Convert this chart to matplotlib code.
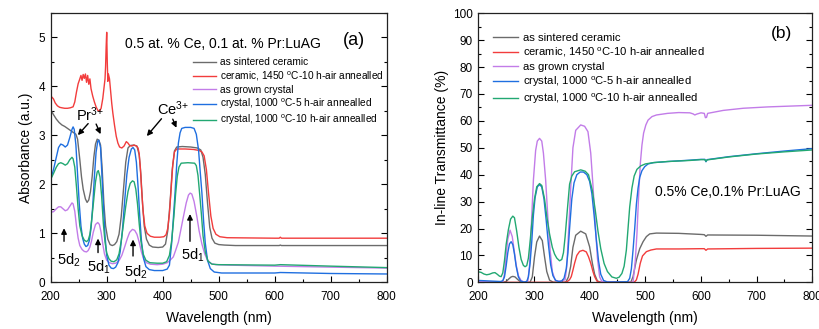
import matplotlib
matplotlib.use("Agg")
import matplotlib.pyplot as plt
from matplotlib.ticker import MultipleLocator

# ---------------- (a) absorbance data ----------------
wl_a_sintered = [200, 205, 210, 215, 220, 225, 230, 235, 240, 245, 248, 252, 255, 258, 262, 265, 268, 271,
                 274, 277, 280, 283, 286, 289, 292, 295, 298, 302, 306, 310, 314, 318, 322, 326, 330, 334,
                 338, 342, 348, 354, 358, 361, 364, 367, 371, 376, 382, 392, 400, 405, 409, 413, 417, 421,
                 425, 435, 450, 462, 468, 472, 476, 480, 484, 488, 493, 500, 510, 530, 600, 608, 610, 612,
                 700, 800]
abs_sintered = [3.52, 3.42, 3.33, 3.26, 3.21, 3.18, 3.14, 3.10, 3.06, 3.02, 2.92, 2.50, 2.15, 1.90, 1.70, 1.63,
                1.68, 1.85, 2.15, 2.55, 2.82, 2.92, 2.90, 2.80, 2.30, 1.60, 1.15, 0.88, 0.77, 0.75, 0.77, 0.83,
                0.98, 1.35, 1.90, 2.45, 2.74, 2.79, 2.80, 2.78, 2.60, 2.20, 1.60, 1.15, 0.88, 0.76, 0.72, 0.71,
                0.72, 0.78, 1.05, 1.60, 2.30, 2.68, 2.76, 2.77, 2.76, 2.74, 2.70, 2.55, 2.20, 1.62, 1.12, 0.90,
                0.80, 0.77, 0.76, 0.75, 0.75, 0.75, 0.76, 0.75, 0.75, 0.75]

wl_a_ceramic = [200, 202, 205, 208, 212, 216, 220, 225, 230, 235, 240, 243, 246, 249, 252, 254, 256, 258, 260,
                262, 264, 266, 268, 270, 272, 275, 278, 281, 284, 287, 290, 293, 295, 297, 298, 299, 300, 301,
                302, 303, 305, 307, 309, 311, 314, 317, 320, 323, 327, 331, 335, 338, 341, 345, 349, 353, 356,
                358, 360, 362, 365, 368, 372, 378, 385, 395, 402, 406, 409, 412, 415, 418, 421, 425, 440, 455,
                465, 470, 474, 478, 482, 486, 490, 495, 502, 515, 600, 608, 610, 612, 700, 800]
abs_ceramic = [3.72, 3.78, 3.74, 3.66, 3.60, 3.57, 3.56, 3.55, 3.55, 3.56, 3.58, 3.68, 3.88, 4.05, 4.15, 4.22,
               4.12, 4.24, 4.16, 4.25, 4.08, 4.22, 4.04, 4.15, 3.95, 3.80, 3.68, 3.58, 3.51, 3.49, 3.55, 3.75,
               3.95, 4.15, 4.40, 4.80, 5.10, 4.50, 4.10, 4.25, 4.15, 3.90, 3.65, 3.45, 3.20, 2.98, 2.84, 2.76,
               2.74, 2.78, 2.87, 2.84, 2.79, 2.78, 2.80, 2.78, 2.74, 2.62, 2.35, 1.95, 1.45, 1.15, 1.00, 0.94,
               0.92, 0.92, 0.93, 0.97, 1.10, 1.40, 1.90, 2.40, 2.66, 2.72, 2.72, 2.71, 2.69, 2.66, 2.58, 2.30,
               1.80, 1.35, 1.10, 0.98, 0.93, 0.91, 0.90, 0.90, 0.92, 0.90, 0.90, 0.90]

wl_a_grown = [200, 205, 210, 214, 218, 222, 226, 230, 234, 238, 240, 243, 246, 249, 252, 256, 260, 264, 267,
              270, 273, 276, 280, 284, 287, 290, 293, 296, 300, 305, 310, 316, 322, 327, 332, 337, 341, 346,
              350, 354, 358, 362, 366, 371, 378, 390, 400, 408, 414, 419, 423, 428, 432, 437, 442, 446, 449,
              452, 456, 461, 465, 470, 475, 480, 487, 495, 520, 600, 700, 800]
abs_grown = [1.43, 1.44, 1.50, 1.54, 1.54, 1.50, 1.46, 1.48, 1.55, 1.62, 1.60, 1.45, 1.15, 0.90, 0.75, 0.67,
             0.63, 0.62, 0.65, 0.72, 0.85, 1.02, 1.18, 1.22, 1.18, 1.02, 0.78, 0.58, 0.45, 0.40, 0.38, 0.39,
             0.44, 0.55, 0.72, 0.90, 1.02, 1.08, 1.06, 0.98, 0.82, 0.62, 0.48, 0.40, 0.37, 0.36, 0.37, 0.40,
             0.46, 0.52, 0.65, 0.82, 1.05, 1.34, 1.62, 1.78, 1.82, 1.80, 1.65, 1.34, 1.05, 0.78, 0.58, 0.45,
             0.38, 0.36, 0.35, 0.33, 0.31, 0.29]

wl_a_cr5h = [200, 205, 210, 214, 218, 222, 226, 230, 234, 238, 240, 242, 245, 248, 251, 254, 257, 260, 263,
             266, 269, 272, 275, 278, 281, 284, 286, 289, 291, 294, 297, 300, 304, 308, 312, 316, 320, 324,
             328, 332, 336, 340, 344, 347, 350, 353, 356, 359, 362, 366, 370, 376, 385, 400, 408, 412, 416,
             419, 422, 425, 428, 431, 434, 440, 450, 456, 460, 464, 467, 470, 473, 476, 480, 485, 492, 505,
             600, 610, 700, 800]
abs_cr5h = [2.10, 2.30, 2.55, 2.75, 2.82, 2.80, 2.76, 2.80, 2.95, 3.12, 3.17, 3.12, 2.80, 2.20, 1.60, 1.15,
            0.90, 0.78, 0.73, 0.75, 0.85, 1.10, 1.55, 2.15, 2.65, 2.88, 2.90, 2.75, 2.30, 1.60, 0.95, 0.55,
            0.35, 0.29, 0.28, 0.31, 0.40, 0.62, 1.05, 1.65, 2.20, 2.55, 2.72, 2.75, 2.70, 2.45, 1.95, 1.35,
            0.85, 0.48, 0.32, 0.26, 0.24, 0.24, 0.27, 0.35, 0.80, 1.30, 1.82, 2.40, 2.84, 3.05, 3.14, 3.16,
            3.16, 3.14, 3.02, 2.70, 2.25, 1.82, 1.25, 0.80, 0.45, 0.28, 0.21, 0.19, 0.19, 0.20, 0.18, 0.17]

wl_a_cr10h = [200, 205, 210, 214, 218, 222, 226, 230, 234, 238, 240, 243, 246, 249, 252, 256, 260, 264, 267,
              270, 273, 277, 280, 283, 285, 288, 291, 294, 297, 300, 304, 308, 313, 318, 322, 326, 330, 334,
              338, 342, 346, 349, 352, 355, 358, 361, 365, 370, 377, 390, 400, 407, 412, 416, 420, 423, 426,
              429, 433, 445, 457, 460, 463, 466, 469, 472, 476, 481, 488, 500, 600, 610, 700, 800]
abs_cr10h = [2.10, 2.22, 2.35, 2.42, 2.44, 2.42, 2.39, 2.42, 2.50, 2.55, 2.52, 2.35, 1.95, 1.50, 1.15, 0.95,
             0.86, 0.83, 0.86, 0.98, 1.25, 1.70, 2.05, 2.25, 2.28, 2.15, 1.75, 1.20, 0.82, 0.60, 0.48, 0.43,
             0.42, 0.46, 0.58, 0.85, 1.20, 1.55, 1.85, 2.02, 2.07, 2.05, 1.90, 1.60, 1.20, 0.85, 0.58, 0.45,
             0.40, 0.39, 0.39, 0.42, 0.55, 0.85, 1.35, 1.80, 2.16, 2.35, 2.43, 2.44, 2.43, 2.38, 2.18, 1.80,
             1.40, 0.95, 0.62, 0.43, 0.37, 0.36, 0.35, 0.36, 0.33, 0.30]

# ---------------- (b) in-line transmittance data ----------------
wl_t_sintered = [200, 245, 250, 255, 259, 262, 266, 270, 275, 282, 293, 297, 301, 305, 310, 315, 319, 323,
                 328, 335, 357, 362, 366, 370, 375, 384, 393, 400, 405, 409, 414, 420, 474, 478, 484, 490,
                 496, 502, 508, 520, 560, 600, 606, 609, 612, 700, 800]
tr_sintered = [0.0, 0.0, 0.3, 1.3, 2.0, 2.2, 2.0, 1.2, 0.3, 0.0, 0.0, 2.0, 9.5, 15.0, 17.2, 15.5, 9.5, 4.0,
               0.8, 0.0, 0.0, 2.0, 6.0, 13.0, 17.5, 19.0, 18.0, 13.2, 7.0, 3.0, 0.5, 0.0, 0.0, 2.1, 8.3,
               12.5, 15.1, 17.0, 18.0, 18.3, 18.2, 17.8, 17.7, 17.1, 17.6, 17.5, 17.2]

wl_t_ceramic = [200, 355, 360, 364, 367, 370, 373, 377, 382, 388, 394, 398, 402, 406, 409, 413, 418, 480,
                484, 487, 491, 495, 502, 510, 520, 560, 600, 606, 609, 612, 700, 800]
tr_ceramic = [0.0, 0.0, 0.3, 1.0, 2.1, 4.5, 7.1, 10.0, 11.5, 11.9, 11.3, 9.5, 7.1, 4.0, 2.1, 0.5, 0.0, 0.0,
              0.9, 3.0, 7.1, 9.8, 11.4, 12.0, 12.4, 12.4, 12.5, 12.5, 11.9, 12.4, 12.6, 12.7]

wl_t_grown = [200, 215, 240, 244, 247, 250, 253, 257, 261, 264, 268, 272, 277, 283, 289, 292, 295, 299, 303,
              306, 310, 314, 317, 321, 325, 329, 333, 338, 344, 350, 356, 359, 362, 366, 370, 375, 384, 391,
              397, 402, 406, 410, 414, 418, 422, 478, 482, 485, 488, 491, 494, 497, 501, 505, 512, 520, 540,
              560, 580, 586, 589, 592, 600, 606, 608, 610, 612, 640, 676, 720, 760, 800]
tr_grown = [0.3, 0.2, 0.1, 0.2, 3.0, 10.0, 16.0, 19.4, 17.0, 12.5, 6.5, 2.5, 0.6, 0.1, 0.5, 6.0, 20.0, 38.0,
            49.0, 52.5, 53.5, 52.5, 48.0, 38.0, 24.0, 12.0, 4.0, 0.8, 0.4, 0.5, 1.0, 6.0, 18.0, 35.0, 50.0,
            56.5, 58.5, 58.0, 56.0, 48.0, 36.0, 22.0, 9.0, 2.0, 0.3, 0.0, 8.0, 18.0, 32.0, 44.0, 51.0, 55.5,
            58.5, 60.3, 61.6, 62.2, 62.8, 63.1, 63.0, 62.6, 62.2, 62.5, 63.0, 62.8, 61.2, 61.3, 62.8, 63.9,
            64.7, 65.2, 65.5, 65.8]

wl_t_cr5h = [200, 220, 240, 244, 247, 250, 253, 256, 259, 262, 265, 268, 272, 276, 282, 287, 290, 293, 296,
             299, 302, 306, 310, 314, 318, 322, 326, 330, 334, 339, 345, 350, 354, 358, 361, 364, 368, 372,
             377, 383, 389, 395, 400, 404, 408, 412, 416, 420, 425, 432, 468, 472, 475, 478, 481, 484, 487,
             490, 494, 499, 505, 515, 540, 580, 600, 607, 609, 611, 650, 700, 750, 800]
tr_cr5h = [0.7, 0.5, 0.3, 0.6, 2.0, 6.0, 11.0, 14.3, 15.1, 14.0, 10.5, 6.0, 2.0, 0.5, 0.1, 0.3, 2.0, 7.0,
           15.0, 25.0, 31.5, 35.5, 36.3, 35.5, 31.0, 23.0, 14.0, 6.5, 2.5, 0.7, 0.3, 0.5, 1.5, 5.0, 11.0,
           20.0, 31.0, 37.0, 40.0, 41.0, 41.0, 40.0, 37.5, 33.0, 25.0, 16.0, 8.0, 3.0, 0.7, 0.1, 0.2, 1.5,
           5.0, 12.0, 20.0, 29.0, 35.0, 39.0, 41.5, 43.0, 44.0, 44.5, 44.9, 45.4, 45.7, 45.7, 44.8, 45.6,
           46.7, 47.8, 48.8, 49.7]

wl_t_cr10h = [200, 205, 210, 215, 220, 226, 230, 234, 238, 241, 244, 247, 250, 254, 258, 262, 265, 269, 273,
              277, 281, 284, 287, 290, 293, 297, 301, 305, 310, 314, 319, 323, 328, 333, 337, 341, 346, 350,
              353, 356, 360, 364, 368, 373, 384, 392, 398, 405, 410, 415, 420, 426, 432, 440, 448, 453, 458,
              462, 466, 469, 472, 476, 480, 485, 492, 500, 515, 540, 580, 600, 607, 609, 611, 650, 700, 750,
              800]
tr_cr10h = [3.9, 3.7, 3.1, 2.8, 3.0, 3.5, 3.6, 3.0, 2.3, 2.1, 3.5, 8.0, 14.0, 19.5, 23.5, 24.6, 24.0, 19.0,
            13.0, 8.5, 6.3, 5.8, 6.2, 9.0, 15.0, 24.0, 31.0, 35.5, 36.7, 36.0, 31.0, 24.5, 18.0, 13.0, 10.5,
            9.0, 8.0, 8.5, 11.0, 17.0, 27.0, 36.5, 39.5, 41.1, 41.8, 41.3, 40.0, 34.0, 27.0, 19.0, 12.5, 7.0,
            4.0, 2.0, 1.5, 1.9, 3.3, 6.0, 12.0, 20.0, 28.0, 35.0, 39.5, 42.0, 43.3, 44.0, 44.5, 44.9, 45.3,
            45.6, 45.6, 45.0, 45.5, 46.6, 47.7, 48.5, 49.2]

labels = ["as sintered ceramic",
          "ceramic, 1450 $^{o}$C-10 h-air annealled",
          "as grown crystal",
          "crystal, 1000 $^{o}$C-5 h-air annealled",
          "crystal, 1000 $^{o}$C-10 h-air annealled"]
colors = ["#6b6b6b", "#f23c3c", "#c27ce8", "#1f6fe0", "#22a872"]


def style_axes(ax, ymax, ymajor, yminor):
    ax.set_xlim(200, 800)
    ax.set_ylim(0, ymax)
    ax.xaxis.set_major_locator(MultipleLocator(100))
    ax.xaxis.set_minor_locator(MultipleLocator(50))
    ax.yaxis.set_major_locator(MultipleLocator(ymajor))
    ax.yaxis.set_minor_locator(MultipleLocator(yminor))
    ax.tick_params(which="both", direction="in", top=False, right=True,
                   labelsize=8.5, width=0.8)
    ax.tick_params(axis="x", which="both", pad=6)
    ax.tick_params(axis="y", which="both", pad=4)
    ax.tick_params(which="major", length=4)
    ax.tick_params(which="minor", length=2)
    for sp in ax.spines.values():
        sp.set_linewidth(0.9)
        sp.set_color("#222222")


def up_arrow(ax, x, y0, y1):
    ax.annotate("", xy=(x, y1), xytext=(x, y0),
                arrowprops=dict(arrowstyle="-|>", color="black", lw=1.0, mutation_scale=8))


def main():
    plt.rcParams["font.family"] = ["Liberation Sans", "DejaVu Sans"]
    plt.rcParams["mathtext.fontset"] = "custom"
    plt.rcParams["mathtext.rm"] = "Liberation Sans"
    plt.rcParams["mathtext.it"] = "Liberation Sans:italic"
    plt.rcParams["mathtext.bf"] = "Liberation Sans:bold"
    plt.rcParams["mathtext.default"] = "regular"

    fig = plt.figure(figsize=(8.19, 3.29), dpi=100)
    ax1 = fig.add_axes([0.0619, 0.1419, 0.4103, 0.8195])
    ax2 = fig.add_axes([0.5840, 0.1419, 0.4078, 0.8177])

    # (a) absorbance
    abs_sets = [(wl_a_sintered, abs_sintered), (wl_a_ceramic, abs_ceramic), (wl_a_grown, abs_grown),
                (wl_a_cr5h, abs_cr5h), (wl_a_cr10h, abs_cr10h)]
    for (x, y), lab, c in zip(abs_sets, labels, colors):
        ax1.plot(x, y, color=c, lw=1.0, label=lab)
    style_axes(ax1, 5.5, 1, 0.5)
    ax1.set_xlabel("Wavelength (nm)", fontsize=10, labelpad=6)
    ax1.set_ylabel("Absorbance (a.u.)", fontsize=10, labelpad=4)
    ax1.legend(loc="upper left", bbox_to_anchor=(0.424, 0.835), frameon=False, fontsize=7.3,
               handlelength=2.25, handletextpad=0.35, labelspacing=0.2, borderpad=0, borderaxespad=0)
    ax1.text(332.7, 4.86, "0.5 at. % Ce, 0.1 at. % Pr:LuAG", fontsize=10, ha="left", va="center")
    ax1.text(741.6, 4.94, "(a)", fontsize=13, ha="center", va="center")

    ax1.text(245.2, 3.30, "Pr$^{3{+}}$", fontsize=10.5, ha="left", va="baseline")
    ax1.annotate("", xy=(245.2, 2.96), xytext=(270.2, 3.28),
                 arrowprops=dict(arrowstyle="-|>", color="black", lw=1.0, mutation_scale=8))
    ax1.annotate("", xy=(291.1, 2.97), xytext=(279.1, 3.28),
                 arrowprops=dict(arrowstyle="-|>", color="black", lw=1.0, mutation_scale=8))
    ax1.text(389.3, 3.41, "Ce$^{3{+}}$", fontsize=10.5, ha="left", va="baseline")
    ax1.annotate("", xy=(368.4, 2.94), xytext=(401.0, 3.38),
                 arrowprops=dict(arrowstyle="-|>", color="black", lw=1.0, mutation_scale=8))
    ax1.annotate("", xy=(426.5, 3.10), xytext=(416.0, 3.38),
                 arrowprops=dict(arrowstyle="-|>", color="black", lw=1.0, mutation_scale=8))

    up_arrow(ax1, 223.8, 0.78, 1.16)
    up_arrow(ax1, 284.5, 0.55, 0.95)
    up_arrow(ax1, 347.0, 0.48, 0.93)
    up_arrow(ax1, 448.7, 0.78, 1.45)
    ax1.text(211.8, 0.367, "5d$_2$", fontsize=10.5, ha="left", va="baseline")
    ax1.text(265.4, 0.216, "5d$_1$", fontsize=10.5, ha="left", va="baseline")
    ax1.text(331.4, 0.114, "5d$_2$", fontsize=10.5, ha="left", va="baseline")
    ax1.text(432.7, 0.455, "5d$_1$", fontsize=10.5, ha="left", va="baseline")

    # (b) in-line transmittance
    tr_sets = [(wl_t_sintered, tr_sintered), (wl_t_ceramic, tr_ceramic), (wl_t_grown, tr_grown),
               (wl_t_cr5h, tr_cr5h), (wl_t_cr10h, tr_cr10h)]
    for (x, y), lab, c in zip(tr_sets, labels, colors):
        ax2.plot(x, y, color=c, lw=1.0, label=lab)
    style_axes(ax2, 100, 10, 5)
    ax2.set_xlabel("Wavelength (nm)", fontsize=10, labelpad=6)
    ax2.set_ylabel("In-line Transmittance (%)", fontsize=10, labelpad=3)
    ax2.legend(loc="upper left", bbox_to_anchor=(0.044, 0.927), frameon=False, fontsize=8.1,
               handlelength=2.2, handletextpad=0.45, labelspacing=0.25, borderpad=0, borderaxespad=0)
    ax2.text(745.5, 92.6, "(b)", fontsize=12.5, ha="center", va="center")
    ax2.text(517.4, 33.5, "0.5% Ce,0.1% Pr:LuAG", fontsize=10, ha="left", va="center")

    fig.savefig("out.png", dpi=100)


if __name__ == "__main__":
    main()
